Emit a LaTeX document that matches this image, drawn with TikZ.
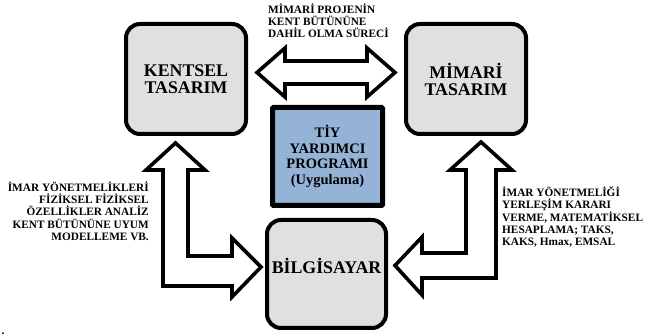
\documentclass[tikz,border=0pt]{standalone}
\usepackage{fontspec}
\setmainfont{Liberation Serif}
\definecolor{boxgray}{RGB}{224,224,224}
\definecolor{tiyblue}{RGB}{149,179,215}
\tikzset{
  rbox/.style={draw=black, line width=4pt, fill=boxgray, rounded corners=14pt,
    minimum width=120pt, minimum height=110pt, inner sep=0pt, align=center,
    font=\bfseries\fontsize{17.8}{17}\selectfont},
  tiybox/.style={draw=black, line width=5pt, fill=tiyblue, rounded corners=1pt,
    minimum width=110pt, minimum height=98pt, inner sep=0pt, align=center,
    font=\bfseries\fontsize{14.5}{15.6}\selectfont},
  blockarrow/.style={draw=black, line width=3.6pt, fill=white, line join=miter},
  lbl/.style={inner sep=0pt, font=\bfseries\fontsize{11.3}{12.3}\selectfont}
}
\begin{document}
\begin{tikzpicture}[x=1pt, y=-1pt]
\useasboundingbox (0,0) rectangle (645,336);
% boxes
\node[rbox] (kentsel) at (186,79) {KENTSEL\\TASARIM};
\node[rbox] (mimari) at (466,79) {M\.{I}MAR\.{I}\\TASARIM};
\node[tiybox] (tiy) at (327.5,156.5) {T\.{I}Y\\YARDIMCI\\PROGRAMI\\(Uygulama)};
\node[rbox, minimum width=119pt, minimum height=108pt] (bilg) at (326.5,274) {B\.{I}LG\.{I}SAYAR\vphantom{g}\\[0pt]};
% block arrows
\draw[blockarrow] (257,72.5) -- (285,48) -- (285,61) -- (367,61) -- (367,48) -- (395,72.5)
  -- (367,97) -- (367,84) -- (285,84) -- (285,97) -- cycle;
\draw[blockarrow] (175.5,143) -- (205,170) -- (188,170) -- (188,256) -- (232,256) -- (232,238)
  -- (261,267) -- (232,297) -- (232,286) -- (163,286) -- (163,170) -- (146,170) -- cycle;
\draw[blockarrow] (481,142) -- (512,170) -- (496,170) -- (496,278) -- (422,278) -- (422,295)
  -- (395,265.5) -- (422,237) -- (422,253) -- (466,253) -- (466,170) -- (450,170) -- cycle;
% labels
\node[lbl, anchor=north west, align=left] (toplbl) at (268,3.5)
  {M\.{I}MAR\.{I} PROJEN\.{I}N\\KENT B\"UT\"UN\"UNE\\DAH\.{I}L OLMA S\"UREC\.{I}};
\node[lbl, anchor=north east, align=right] (leftlbl) at (149,181.5)
  {\.{I}MAR Y\"ONETMEL\.{I}KLER\.{I}\\F\.{I}Z\.{I}KSEL F\.{I}Z\.{I}KSEL\\\"OZELL\.{I}KLER ANAL\.{I}Z\\KENT B\"UT\"UN\"UNE UYUM\\MODELLEME VB.};
\node[lbl, anchor=north west, align=left] (rightlbl) at (502,186.5)
  {\.{I}MAR Y\"ONETMEL\.{I}\u{G}\.{I}\\YERLE\c{S}\.{I}M KARARI\\VERME, MATEMAT\.{I}KSEL\\HESAPLAMA; TAKS,\\KAKS, Hmax, EMSAL};
\node[lbl, anchor=base west] (dot) at (1.5,334.5) {.};
\end{tikzpicture}
\end{document}
